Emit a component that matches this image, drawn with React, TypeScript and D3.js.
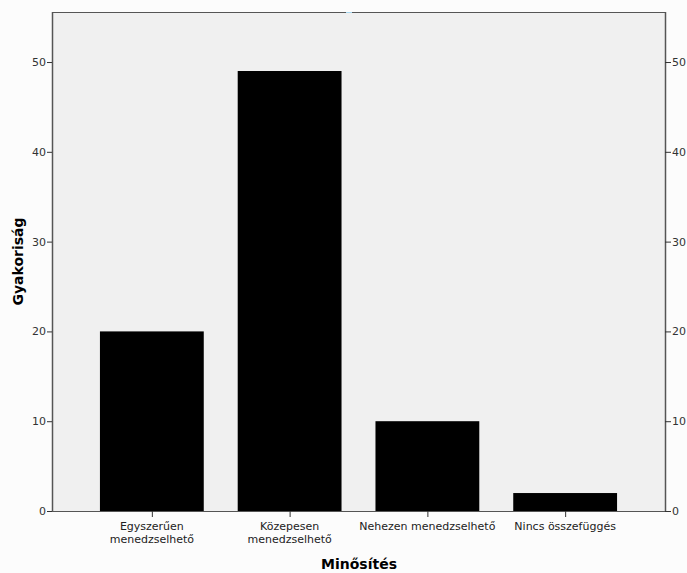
import React from "react";
import * as d3 from "d3";

const categories: string[][] = [
  ["Egyszerűen", "menedzselhető"],
  ["Közepesen", "menedzselhető"],
  ["Nehezen menedzselhető"],
  ["Nincs összefüggés"],
];
const values: number[] = [20, 49, 10, 2];
const yTicks: number[] = [0, 10, 20, 30, 40, 50];
const xTitle = "Minősítés";
const yTitle = "Gyakoriság";

const W = 687;
const H = 573;
const M = { left: 52, right: 665, top: 12, bottom: 511 };

export default function App() {
  const x = d3
    .scaleBand<number>()
    .domain(values.map((_, i) => i))
    .range([M.left, M.right])
    .paddingInner(0.2464)
    .paddingOuter(0.348);
  const y = d3.scaleLinear().domain([0, 55.57]).range([M.bottom, M.top]);
  const font = "'DejaVu Sans', Verdana, sans-serif";
  const tickColor = "#333";
  const axisColor = "#555";
  return (
    <div style={{ position: "absolute", left: 0, top: 0 }}>
      <svg width={W} height={H} style={{ display: "block", background: "#fcfcfc" }}>
        <rect x={M.left} y={M.top} width={M.right - M.left} height={M.bottom - M.top} fill="#f0f0f0" />
        {values.map((v, i) => (
          <rect key={i} x={x(i)!} y={y(v)} width={x.bandwidth()} height={y(0) - y(v)} fill="#000" />
        ))}
        <line x1={M.left} x2={M.right} y1={M.top + 0.5} y2={M.top + 0.5} stroke={axisColor} strokeWidth={1} />
        <line x1={346} x2={352} y1={M.top + 0.5} y2={M.top + 0.5} stroke="#a8d8f0" strokeWidth={1} />
        <line x1={M.left} x2={M.right} y1={M.bottom + 0.5} y2={M.bottom + 0.5} stroke={axisColor} strokeWidth={1} />
        <line x1={M.left + 0.5} x2={M.left + 0.5} y1={M.top} y2={M.bottom + 1} stroke={axisColor} strokeWidth={1.5} />
        <line x1={M.right + 0.5} x2={M.right + 0.5} y1={M.top} y2={M.bottom + 1} stroke={axisColor} strokeWidth={1.5} />
        {yTicks.map((t) => (
          <g key={t}>
            <line x1={M.left - 5} x2={M.left} y1={y(t) + 0.5} y2={y(t) + 0.5} stroke={tickColor} />
            <text x={M.left - 6} y={y(t) + 4} textAnchor="end" fontSize={11} fontFamily={font} fill={tickColor}>
              {t}
            </text>
            <line x1={M.right} x2={M.right + 6} y1={y(t) + 0.5} y2={y(t) + 0.5} stroke={tickColor} />
            <text x={M.right + 7} y={y(t) + 4} textAnchor="start" fontSize={11} fontFamily={font} fill={tickColor}>
              {t}
            </text>
          </g>
        ))}
        {categories.map((lines, i) => {
          const cx = x(i)! + x.bandwidth() / 2;
          return (
            <g key={i}>
              <line x1={cx + 0.5} x2={cx + 0.5} y1={M.bottom} y2={M.bottom + 6} stroke={tickColor} />
              {lines.map((l, j) => (
                <text key={j} x={cx} y={M.bottom + 19 + j * 12.5} textAnchor="middle" fontSize={11} fontFamily={font} fill="#222">
                  {l}
                </text>
              ))}
            </g>
          );
        })}
        <text x={359} y={569} textAnchor="middle" fontSize={14} fontWeight="bold" fontFamily={font} fill="#000">
          {xTitle}
        </text>
        <text
          transform={`translate(23, ${(M.top + M.bottom) / 2}) rotate(-90)`}
          textAnchor="middle"
          fontSize={14}
          fontWeight="bold"
          fontFamily={font}
          fill="#000"
        >
          {yTitle}
        </text>
      </svg>
    </div>
  );
}
